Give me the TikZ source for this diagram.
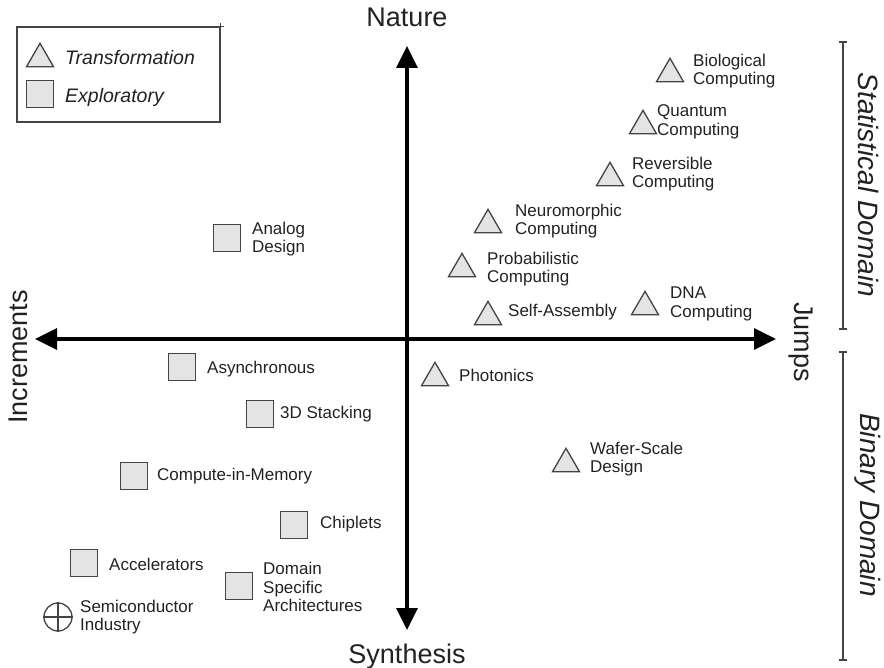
\documentclass[tikz,border=0pt]{standalone}
\usepackage{fontspec}
\setmainfont{Liberation Sans}
\usetikzlibrary{arrows.meta,shapes.geometric}
\definecolor{shapefill}{HTML}{E4E4E4}
\definecolor{shapeline}{HTML}{444444}
\definecolor{ink}{HTML}{222222}
\begin{document}
\begin{tikzpicture}[x=1pt,y=-1pt,
  tri/.style={regular polygon, regular polygon sides=3, minimum size=31.2pt,
    inner sep=0pt, draw=shapeline, fill=shapefill, line width=1.3pt, yshift=-3.9pt},
  sq/.style={rectangle, minimum size=27pt, inner sep=0pt,
    draw=shapeline, fill=shapefill, line width=1.3pt},
  item/.style={anchor=west, inner sep=0pt, align=left, text=ink,
    font=\fontsize{17}{18.5}\selectfont},
  axislabel/.style={inner sep=0pt, text=ink, font=\fontsize{27}{30}\selectfont},
  domainlabel/.style={inner sep=0pt, text=ink, rotate=-90,
    font=\fontsize{28}{30}\selectfont\itshape},
  axis/.style={line width=3.5pt, black,
    {Triangle[length=22pt,width=21pt]}-{Triangle[length=22pt,width=21pt]}},
  bracket/.style={line width=1.1pt, shapeline}]
\useasboundingbox (0,0) rectangle (884,668);

% legend
\node[draw=shapeline, line width=1.5pt, fill=white, minimum width=203pt,
  minimum height=95pt, inner sep=0pt] (legend) at (118.5,74.5) {};
\draw[shapeline, line width=0.8pt] ([xshift=-3pt]legend.north east) -- ([xshift=3pt]legend.north east)
  ([yshift=-3pt]legend.north east) -- ([yshift=3pt]legend.north east);
\node[tri] (lgtri) at (40,55) {};
\node[sq] (lgsq) at (40,94) {};
\node[anchor=west, inner sep=0pt, text=ink, font=\fontsize{19.5}{21}\selectfont\itshape]
  (lgt) at (65,58) {Transformation};
\node[anchor=west, inner sep=0pt, text=ink, font=\fontsize{19.5}{21}\selectfont\itshape]
  (lge) at (65,97) {Exploratory};

% axes
\coordinate (top) at (407,46);
\coordinate (bottom) at (407,630);
\coordinate (left) at (35,339);
\coordinate (right) at (776,339);
\draw[axis] (bottom) -- (top);
\draw[axis] (left) -- (right);
\node[axislabel] (nature) at (407,17) {Nature};
\node[axislabel, anchor=base] (synth) at (407,663) {Synthesis};
\node[axislabel, rotate=90] (incr) at (18,357) {Increments};
\node[axislabel, rotate=-90] (jumps) at (801,342) {Jumps};

% domain brackets
\coordinate (s1) at (843,42);
\coordinate (s2) at (843,329);
\coordinate (b1) at (843,352);
\coordinate (b2) at (843,660);
\draw[bracket] (s1) -- (s2);
\draw[bracket] (b1) -- (b2);
\foreach \c in {s1,s2,b1,b2}
  \draw[bracket] ([xshift=-4pt]\c) -- ([xshift=4pt]\c);
\node[domainlabel] (stat) at (868,185) {Statistical Domain};
\node[domainlabel] (bin) at (868,505) {Binary Domain};

% transformation items
\node[tri] (bio) at (670,70) {};
\node[item] (biot) at (693,71) {Biological\\Computing};
\node[tri] (qc) at (643,122) {};
\node[item] (qct) at (657,122) {Quantum\\Computing};
\node[tri] (rev) at (610,174) {};
\node[item] (revt) at (632,174) {Reversible\\Computing};
\node[tri] (neuro) at (488,221) {};
\node[item] (neurot) at (515,221) {Neuromorphic\\Computing};
\node[tri] (prob) at (462,265) {};
\node[item] (probt) at (487,269) {Probabilistic\\Computing};
\node[tri] (self) at (488,313) {};
\node[item] (selft) at (508,312) {Self-Assembly};
\node[tri] (dna) at (645,303) {};
\node[item] (dnat) at (670,304) {DNA\\Computing};
\node[tri] (phot) at (435,374) {};
\node[item] (phott) at (459,375) {Photonics};
\node[tri] (wafer) at (566,460) {};
\node[item] (wafert) at (590,459) {Wafer-Scale\\Design};

% exploratory items
\node[sq] (analog) at (227,238) {};
\node[item] (analogt) at (252,239) {Analog\\Design};
\node[sq] (async) at (182,367) {};
\node[item] (asynct) at (207,369) {Asynchronous};
\node[sq] (stack) at (260,414) {};
\node[item] (stackt) at (280,414) {3D Stacking};
\node[sq] (cim) at (134,476) {};
\node[item] (cimt) at (157,476) {Compute-in-Memory};
\node[sq] (chip) at (294,525) {};
\node[item] (chipt) at (320,524) {Chiplets};
\node[sq] (acc) at (84,563) {};
\node[item] (acct) at (109,564) {Accelerators};
\node[sq] (dsa) at (239,586) {};
\node[item] (dsat) at (263,587) {Domain\\Specific\\Architectures};

% baseline: semiconductor industry
\node[circle, minimum size=28pt, inner sep=0pt, draw=shapeline, fill=white,
  line width=1.3pt] (semi) at (58,617) {};
\draw[shapeline, line width=1.3pt] (semi.north) -- (semi.south) (semi.west) -- (semi.east);
\node[item] (semit) at (80,617) {Semiconductor\\Industry};
\end{tikzpicture}
\end{document}
